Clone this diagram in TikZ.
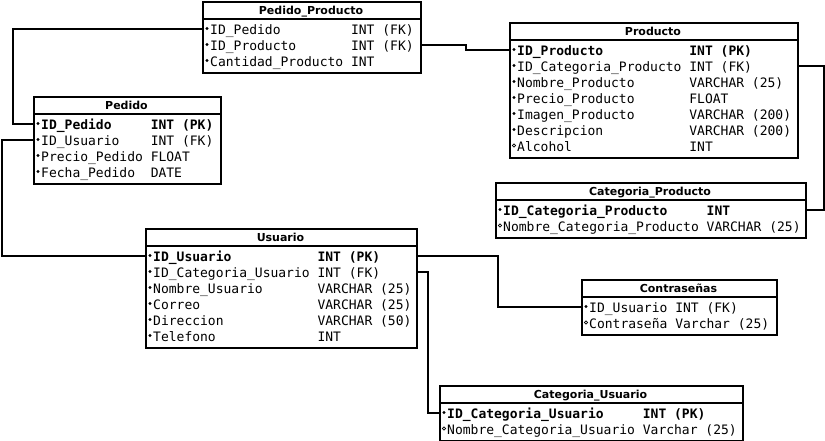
\documentclass[tikz,border=0pt]{standalone}
\usepackage{fontspec}
\newfontfamily\ermono{DejaVu Sans Mono}
\newfontfamily\ersans{DejaVu Sans}
\tikzset{
  tbl/.style={draw=black, line width=2pt, inner sep=0pt, anchor=north west},
  sepl/.style={line width=1.8pt},
  ttl/.style={font=\ersans\bfseries\fontsize{11}{13}\selectfont, inner sep=0pt, anchor=base},
  fld/.style={font=\ermono\fontsize{13}{15}\selectfont, inner sep=0pt, anchor=base west},
  rowbox/.style={inner sep=0pt, minimum height=16pt},
  dotf/.style={fill=black},
  doto/.style={draw=black, line width=0.6pt},
  link/.style={line width=2pt, line join=miter}
}
% #1 id, #2 left, #3 right, #4 top, #5 rows, #6 title
\newcommand\ertable[6]{%
  \node[tbl, minimum width={#3-#2}, minimum height={22.5+16*#5}] (#1) at (#2,#4) {};
  \draw[sepl] (#2,{#4+18}) -- (#3,{#4+18});
  \node[ttl] (#1-ttl) at ({(#2+#3)/2},{#4+13}) {#6};
}
% #1 row id, #2 left, #3 right, #4 top, #5 index, #6 bullet, #7 name, #8 cells, #9 type
\newcommand\erfield[9]{%
  \pgfmathsetmacro\ery{#4+27.5+16*(#5-1)}%
  \pgfmathsetmacro\erb{\ery+5.5}%
  \pgfmathsetmacro\ertx{#2+8+#8*7.826}%
  \node[rowbox, minimum width={#3-#2}] (#1) at ({(#2+#3)/2},\ery) {};
  \path[#6] ({#2+5},\ery) circle (1.6pt);
  \node[fld] (#1-n) at ({#2+8},\erb) {#7};
  \node[fld] (#1-t) at (\ertx,\erb) {#9};
}
\begin{document}
\begin{tikzpicture}[x=1pt,y=-1pt]
\useasboundingbox (0,0) rectangle (825,440);

% Pedido_Producto
\ertable{pp}{202}{420}{1}{3}{Pedido\_Producto}
\erfield{pp1}{202}{420}{1}{1}{dotf}{ID\_Pedido}{18}{INT (FK)}
\erfield{pp2}{202}{420}{1}{2}{dotf}{ID\_Producto}{18}{INT (FK)}
\erfield{pp3}{202}{420}{1}{3}{dotf}{Cantidad\_Producto}{18}{INT}

% Pedido
\ertable{pd}{33}{220}{96}{4}{Pedido}
\erfield{pd1}{33}{220}{96}{1}{dotf}{\bfseries ID\_Pedido}{14}{\bfseries INT (PK)}
\erfield{pd2}{33}{220}{96}{2}{dotf}{ID\_Usuario}{14}{INT (FK)}
\erfield{pd3}{33}{220}{96}{3}{dotf}{Precio\_Pedido}{14}{FLOAT}
\erfield{pd4}{33}{220}{96}{4}{dotf}{Fecha\_Pedido}{14}{DATE}

% Producto
\ertable{pr}{509}{797}{22}{7}{Producto}
\erfield{pr1}{509}{797}{22}{1}{dotf}{\bfseries ID\_Producto}{22}{\bfseries INT (PK)}
\erfield{pr2}{509}{797}{22}{2}{dotf}{ID\_Categoria\_Producto}{22}{INT (FK)}
\erfield{pr3}{509}{797}{22}{3}{dotf}{Nombre\_Producto}{22}{VARCHAR (25)}
\erfield{pr4}{509}{797}{22}{4}{dotf}{Precio\_Producto}{22}{FLOAT}
\erfield{pr5}{509}{797}{22}{5}{dotf}{Imagen\_Producto}{22}{VARCHAR (200)}
\erfield{pr6}{509}{797}{22}{6}{dotf}{Descripcion}{22}{VARCHAR (200)}
\erfield{pr7}{509}{797}{22}{7}{doto}{Alcohol}{22}{INT}

% Categoria_Producto
\ertable{cp}{495}{805}{182}{2}{Categoria\_Producto}
\erfield{cp1}{495}{805}{182}{1}{dotf}{\bfseries ID\_Categoria\_Producto}{26}{\bfseries INT}
\erfield{cp2}{495}{805}{182}{2}{doto}{Nombre\_Categoria\_Producto}{26}{VARCHAR (25)}

% Usuario
\ertable{us}{145}{416}{228}{6}{Usuario}
\erfield{us1}{145}{416}{228}{1}{dotf}{\bfseries ID\_Usuario}{21}{\bfseries INT (PK)}
\erfield{us2}{145}{416}{228}{2}{dotf}{ID\_Categoria\_Usuario}{21}{INT (FK)}
\erfield{us3}{145}{416}{228}{3}{dotf}{Nombre\_Usuario}{21}{VARCHAR (25)}
\erfield{us4}{145}{416}{228}{4}{dotf}{Correo}{21}{VARCHAR (25)}
\erfield{us5}{145}{416}{228}{5}{dotf}{Direccion}{21}{VARCHAR (50)}
\erfield{us6}{145}{416}{228}{6}{dotf}{Telefono}{21}{INT}

% Contraseñas
\ertable{ct}{581}{776}{279}{2}{Contraseñas}
\erfield{ct1}{581}{776}{279}{1}{dotf}{ID\_Usuario}{11}{INT (FK)}
\erfield{ct2}{581}{776}{279}{2}{doto}{Contraseña}{11}{Varchar (25)}

% Categoria_Usuario
\ertable{cu}{439}{742}{385}{2}{Categoria\_Usuario}
\erfield{cu1}{439}{742}{385}{1}{dotf}{\bfseries ID\_Categoria\_Usuario}{25}{\bfseries INT (PK)}
\erfield{cu2}{439}{742}{385}{2}{doto}{Nombre\_Categoria\_Usuario}{25}{Varchar (25)}

% connectors
\draw[link] (pp1.west) -- ([xshift=-189pt]pp1.west) |- (pd1.west);
\draw[link] (pp2.east) -- ([xshift=46pt]pp2.east) |- (pr1.west);
\draw[link] (pr2.east) -- ([xshift=27pt]pr2.east) |- (cp1.east);
\draw[link] (pd2.west) -- ([xshift=-31pt]pd2.west) |- (us1.west);
\draw[link] (us1.east) -- ([xshift=82pt]us1.east) |- (ct1.west);
\draw[link] (us2.east) -- ([xshift=12pt]us2.east) |- (cu1.west);
\end{tikzpicture}
\end{document}
